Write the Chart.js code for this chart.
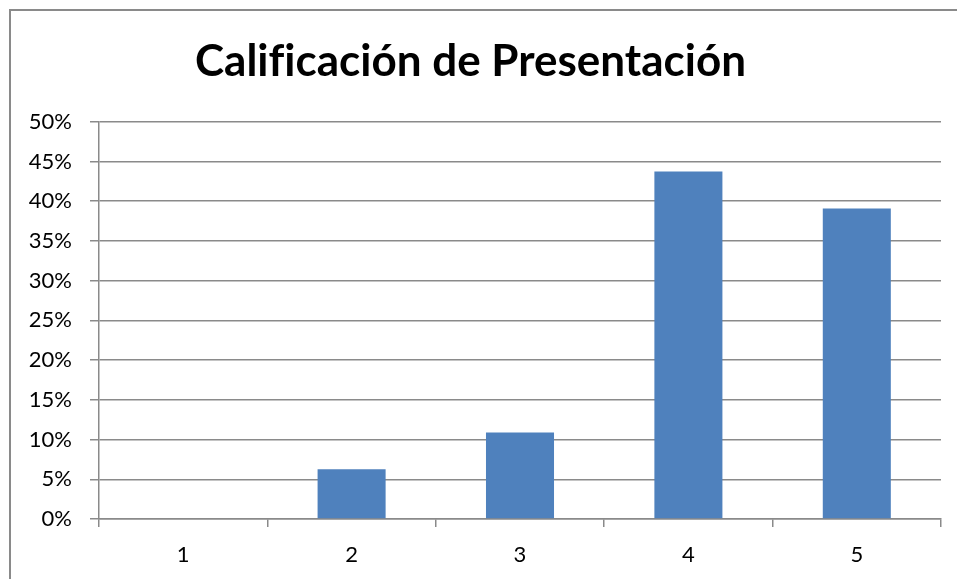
<!DOCTYPE html>
<html>
<head>
<meta charset="utf-8">
<script src="https://cdn.jsdelivr.net/npm/chart.js@4/dist/chart.umd.min.js"></script>
<style>
    html, body { margin: 0; padding: 0; background: #ffffff; }
    body { width: 957px; height: 579px; position: relative; overflow: hidden; }
    #frame {
        position: absolute; left: 9px; top: 9px; width: 1000px; height: 600px;
        border-left: 2px solid #8a8a8a; border-top: 2px solid #8a8a8a;
    }
    #wrap { position: absolute; left: 0; top: 0; width: 957px; height: 579px; }
</style>
</head>
<body>
<div id="frame"></div>
<div id="wrap"><canvas id="chart" width="957" height="579"></canvas></div>
<script>
// Chart data (percent of responses per rating)
const categories = ['1', '2', '3', '4', '5'];
const percentValues = [0, 6.25, 10.9, 43.75, 39.1];
const yTicks = [0, 5, 10, 15, 20, 25, 30, 35, 40, 45, 50];

const gridColor = '#8a8a8a';
const fontFamily = "Lato, 'Open Sans', sans-serif";

const ctx = document.getElementById('chart').getContext('2d');

new Chart(ctx, {
    type: 'bar',
    data: {
        labels: categories,
        datasets: [{
            label: 'Calificación',
            data: percentValues,
            backgroundColor: '#4f81bd',
            borderWidth: 0,
            categoryPercentage: 1.0,
            barPercentage: 0.404
        }]
    },
    options: {
        responsive: false,
        animation: false,
        devicePixelRatio: 1,
        layout: { padding: { left: 0, right: 16, top: 0, bottom: 0 } },
        plugins: {
            legend: { display: false },
            tooltip: { enabled: false },
            title: {
                display: true,
                // zero-width non-joiner keeps "f" and "i" apart, as in the original
                text: 'Calif\u200Cicación de Presentación',
                color: '#000000',
                font: { family: fontFamily, size: 44, weight: 'bold', lineHeight: 1.2 },
                padding: { top: 35, bottom: 34 }
            }
        },
        scales: {
            x: {
                offset: true,
                grid: {
                    display: true,
                    drawOnChartArea: false,
                    drawTicks: true,
                    tickLength: 8,
                    color: gridColor,
                    lineWidth: 1.5
                },
                border: { display: true, color: gridColor, width: 1.5 },
                ticks: {
                    color: '#000000',
                    padding: 15,
                    font: { family: fontFamily, size: 22 }
                },
                afterFit: function(scale) { scale.height = 60; }
            },
            y: {
                min: 0,
                max: 50,
                afterBuildTicks: function(scale) {
                    scale.ticks = yTicks.map(v => ({ value: v }));
                },
                grid: {
                    color: gridColor,
                    lineWidth: 1.5,
                    drawTicks: true,
                    tickLength: 9
                },
                border: { display: true, color: gridColor, width: 1.5 },
                ticks: {
                    color: '#000000',
                    padding: 18,
                    font: { family: fontFamily, size: 22 },
                    callback: function(v) { return v + '%'; }
                },
                afterFit: function(scale) { scale.width = 99; }
            }
        }
    }
});
</script>
</body>
</html>
